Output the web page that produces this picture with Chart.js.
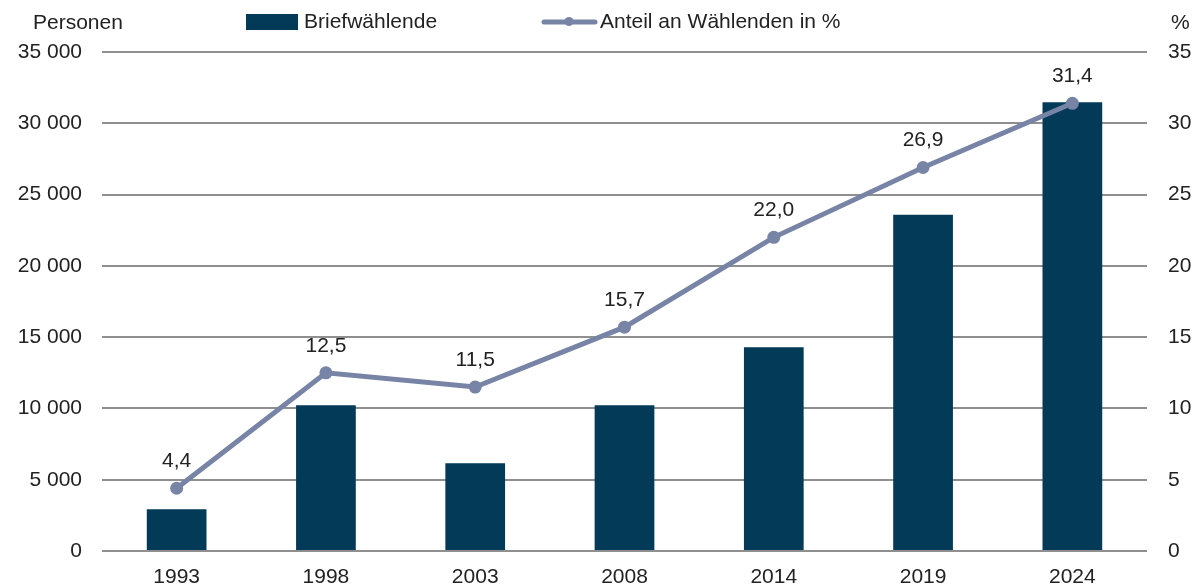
<!DOCTYPE html>
<html>
<head>
<meta charset="utf-8">
<script src="https://cdn.jsdelivr.net/npm/chart.js@4/dist/chart.umd.min.js"></script>
<style>
  html, body { margin: 0; padding: 0; background: #ffffff; }
  #wrap { width: 1200px; height: 588px; position: relative; }
</style>
</head>
<body>
<div id="wrap"><canvas id="c" width="1200" height="588"></canvas></div>
<script>
// Wahljahre
const years = ['1993', '1998', '2003', '2008', '2014', '2019', '2024'];
// Briefwählende (Personen)
const briefwaehlende = [2930, 10220, 6150, 10220, 14290, 23580, 31480];
// Anteil an Wählenden in %
const anteil = [4.4, 12.5, 11.5, 15.7, 22.0, 26.9, 31.4];
// Achsenbeschriftung
const leftTicks = [0, 5000, 10000, 15000, 20000, 25000, 30000, 35000];
const rightTicks = [0, 5, 10, 15, 20, 25, 30, 35];

const BAR_COLOR = '#023a57';
const LINE_COLOR = '#7784a5';
const TEXT_COLOR = '#222222';
const GRID_COLOR = '#8f8f8f';
const FONT = '"Liberation Sans", Arial, Helvetica, sans-serif';

const fmtThousands = v => String(v).replace(/\B(?=(\d{3})+(?!\d))/g, ' ');
const fmtDecimal = v => v.toFixed(1).replace('.', ',');

// Werte über den Linienpunkten, Legende und Achsentitel
const overlay = {
  id: 'overlay',
  afterDatasetsDraw(chart) {
    const ctx = chart.ctx;
    ctx.save();
    ctx.font = '21px ' + FONT;
    ctx.fillStyle = TEXT_COLOR;
    ctx.textAlign = 'center';
    ctx.textBaseline = 'middle';
    const meta = chart.getDatasetMeta(1);
    meta.data.forEach((pt, i) => {
      ctx.fillText(fmtDecimal(chart.data.datasets[1].data[i]), pt.x, pt.y - 27);
    });
    ctx.restore();
  },
  afterDraw(chart) {
    const ctx = chart.ctx;
    ctx.save();
    ctx.font = '21px ' + FONT;
    ctx.fillStyle = TEXT_COLOR;
    ctx.textBaseline = 'middle';
    // Achsentitel
    ctx.textAlign = 'left';
    ctx.fillText('Personen', 33, 23);
    ctx.fillText('%', 1171, 23);
    // Legende: Balken
    const ds0 = chart.data.datasets[0];
    const ds1 = chart.data.datasets[1];
    ctx.fillStyle = ds0.backgroundColor;
    ctx.fillRect(246, 14, 52, 16);
    ctx.fillStyle = TEXT_COLOR;
    ctx.fillText(ds0.label, 304, 22);
    // Legende: Linie
    ctx.strokeStyle = ds1.borderColor;
    ctx.lineWidth = 5;
    ctx.lineCap = 'round';
    ctx.beginPath();
    ctx.moveTo(544, 22);
    ctx.lineTo(595, 22);
    ctx.stroke();
    ctx.fillStyle = ds1.borderColor;
    ctx.beginPath();
    ctx.arc(569, 21.5, 4.5, 0, Math.PI * 2);
    ctx.fill();
    ctx.fillStyle = TEXT_COLOR;
    ctx.fillText(ds1.label, 600, 22);
    ctx.restore();
  }
};

new Chart(document.getElementById('c'), {
  type: 'bar',
  data: {
    labels: years,
    datasets: [
      {
        type: 'bar',
        label: 'Briefwählende',
        data: briefwaehlende,
        backgroundColor: BAR_COLOR,
        borderWidth: 0,
        barPercentage: 0.4,
        categoryPercentage: 1.0,
        yAxisID: 'y',
        order: 2
      },
      {
        type: 'line',
        label: 'Anteil an Wählenden in %',
        data: anteil,
        borderColor: LINE_COLOR,
        backgroundColor: LINE_COLOR,
        borderWidth: 5,
        pointRadius: 6.5,
        pointBorderWidth: 0,
        pointBackgroundColor: LINE_COLOR,
        tension: 0,
        yAxisID: 'y1',
        order: 1
      }
    ]
  },
  options: {
    responsive: false,
    animation: false,
    devicePixelRatio: 1,
    layout: { autoPadding: false, padding: { top: 52, left: 0, right: 0, bottom: 0 } },
    plugins: {
      legend: { display: false },
      tooltip: { enabled: false }
    },
    scales: {
      x: {
        grid: { display: false, drawTicks: false },
        border: { display: false },
        ticks: {
          color: TEXT_COLOR,
          font: { family: FONT, size: 21 },
          padding: 14,
          maxRotation: 0
        },
        afterFit(scale) { scale.height = 37; }
      },
      y: {
        position: 'left',
        min: 0,
        max: 35000,
        afterBuildTicks(scale) { scale.ticks = leftTicks.map(v => ({ value: v })); },
        grid: { color: GRID_COLOR, lineWidth: 2, drawTicks: false },
        border: { display: false },
        ticks: {
          color: TEXT_COLOR,
          font: { family: FONT, size: 21 },
          padding: 20,
          callback: v => fmtThousands(v)
        },
        afterFit(scale) { scale.width = 102; }
      },
      y1: {
        position: 'right',
        min: 0,
        max: 35,
        afterBuildTicks(scale) { scale.ticks = rightTicks.map(v => ({ value: v })); },
        grid: { display: false, drawTicks: false },
        border: { display: false },
        ticks: {
          color: TEXT_COLOR,
          font: { family: FONT, size: 21 },
          padding: 21,
          callback: v => String(v)
        },
        afterFit(scale) { scale.width = 53; }
      }
    }
  },
  plugins: [overlay]
});
</script>
</body>
</html>
